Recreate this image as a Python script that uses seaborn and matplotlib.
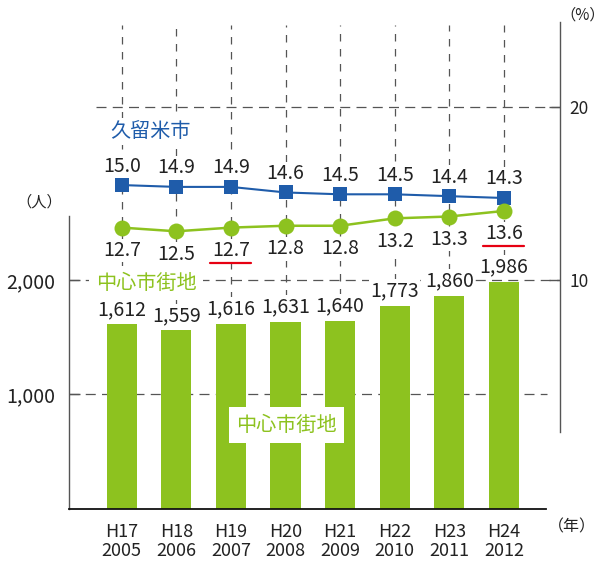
import numpy as np
import matplotlib
matplotlib.use('Agg')
import matplotlib.pyplot as plt
import matplotlib.transforms as mtransforms
from matplotlib import font_manager
import seaborn as sns

# データ
eras = ['H17', 'H18', 'H19', 'H20', 'H21', 'H22', 'H23', 'H24']
years = ['2005', '2006', '2007', '2008', '2009', '2010', '2011', '2012']
center_pop = [1612, 1559, 1616, 1631, 1640, 1773, 1860, 1986]
kurume_rate = [15.0, 14.9, 14.9, 14.6, 14.5, 14.5, 14.4, 14.3]
center_rate = [12.7, 12.5, 12.7, 12.8, 12.8, 13.2, 13.3, 13.6]
underlined = [2, 7]  # 赤い下線つきの値

GREEN = '#8DC21F'
BLUE = '#1F5CAA'
RED = '#E60012'
GRID = '#555555'
INK = '#222222'

sns.set_style('white')
plt.rcParams['font.family'] = ['Noto Sans CJK JP', 'DejaVu Sans']
names = {f.name for f in font_manager.fontManager.ttflist}
if 'Liberation Sans Narrow' in names:
    NUM = ['Liberation Sans Narrow', 'Noto Sans CJK JP']
else:
    NUM = ['Noto Sans CJK JP', 'DejaVu Sans']

fig = plt.figure(figsize=(6.04, 5.65), dpi=100)
rect = [69 / 604, 56 / 565, 491 / 604, 487 / 565]
ax = fig.add_axes(rect)
axp = ax.twinx()
axl = fig.add_axes(rect, facecolor='none')
axl.axis('off')

x = np.arange(len(eras))
xlim = (-0.965, 8.027)
dash = (0, (8, 5))

# 棒グラフ（人）
sns.barplot(x=eras, y=center_pop, ax=ax, color=GREEN, width=0.55,
            saturation=1, linewidth=0, zorder=2)
ax.axhline(1000, xmin=0, xmax=0.9735, color=GRID, lw=0.9, ls=dash, zorder=1)
ax.axhline(2000, xmin=0, xmax=1, color=GRID, lw=0.9, ls=dash, zorder=1)
ax.set_xlim(*xlim)
ax.set_ylim(0, 4253)
ax.set_xlabel('')
ax.set_ylabel('')
for s in ['top', 'right']:
    ax.spines[s].set_visible(False)
ax.spines['left'].set_bounds(0, 2560)
ax.spines['left'].set_color(GRID)
ax.spines['left'].set_linewidth(1)
ax.spines['bottom'].set_bounds(xlim[0], 7.771)
ax.spines['bottom'].set_color('#111111')
ax.spines['bottom'].set_linewidth(1.3)
ax.set_yticks([1000, 2000], ['1,000', '2,000'], fontsize=14, family=NUM, color=INK)
ax.tick_params(axis='y', direction='in', length=8, width=1, color=GRID, pad=10)

# 和暦と西暦を2行の目盛ラベルに
xlabels = [f'{e}\n{y}' for e, y in zip(eras, years)]
ax.set_xticks(x, xlabels, fontsize=13, family=NUM, color=INK, linespacing=1.05)
ax.tick_params(axis='x', length=0, pad=10)

# 右軸（%）
axp.set_ylim(-3.237, 24.913)
axp.axhline(20, xmin=0.055, xmax=1, color=GRID, lw=0.9, ls=dash)
for s in ['top', 'left', 'bottom']:
    axp.spines[s].set_visible(False)
axp.spines['right'].set_bounds(1.2, 24.9)
axp.spines['right'].set_color(GRID)
axp.spines['right'].set_linewidth(1)
axp.set_yticks([10, 20], ['10', '20'], fontsize=12.5, family=NUM, color=INK)
axp.tick_params(axis='y', direction='in', length=8, width=1, color=GRID, pad=7)

# 折れ線（割合）
sns.lineplot(x=x, y=kurume_rate, ax=axl, color=BLUE, marker='s', markersize=10.5,
             lw=1.5, markeredgewidth=0, zorder=4)
sns.lineplot(x=x, y=center_rate, ax=axl, color=GREEN, marker='o', markersize=11.5,
             lw=1.8, markeredgewidth=0, zorder=5)

blend = mtransforms.blended_transform_factory(axl.transData, ax.transData)
for i, v in enumerate(center_pop):
    axl.plot([i, i], [v + 218, 4227], transform=blend, color=GRID, lw=0.9,
             ls=(0, (6, 6)), zorder=0)
    axl.annotate(f'{v:,}', xy=(i, v), xycoords=blend, xytext=(0, 10.8),
                 textcoords='offset points', ha='center', va='center',
                 fontsize=14, family=NUM, color=INK,
                 bbox=dict(fc='white', ec='none', pad=1))

for i, r in enumerate(kurume_rate):
    axl.annotate(f'{r:.1f}', xy=(i, r), xytext=(0, 13.7), textcoords='offset points',
                 ha='center', va='center', fontsize=14, family=NUM, color=INK,
                 bbox=dict(fc='white', ec='none', pad=1))
for i, r in enumerate(center_rate):
    axl.annotate(f'{r:.1f}', xy=(i, r), xytext=(0, -16.5), textcoords='offset points',
                 ha='center', va='center', fontsize=14, family=NUM, color=INK,
                 bbox=dict(fc='white', ec='none', pad=1))

shift = axl.transData + mtransforms.ScaledTranslation(0, -0.35, fig.dpi_scale_trans)
for i in underlined:
    axl.plot([i - 0.375, i + 0.375], [center_rate[i]] * 2, transform=shift,
             color=RED, lw=1.6, zorder=6)

axl.set_xlim(*xlim)
axl.set_ylim(-2.511, 23.814)

# 系列名・単位
fig.text(110 / 604, 1 - 131.7 / 565, '久留米市', color=BLUE, fontsize=14.5,
         ha='left', va='center', bbox=dict(fc='white', ec='none', pad=2))
fig.text(146 / 604, 1 - 283 / 565, '中心市街地', color=GREEN, fontsize=14.5,
         ha='center', va='center', bbox=dict(fc='white', ec='none', pad=5))
fig.text(286.5 / 604, 1 - 425 / 565, '中心市街地', color=GREEN, fontsize=14.5,
         ha='center', va='center',
         bbox=dict(fc='white', ec='none', boxstyle='square,pad=0.35'))
fig.text(39 / 604, 1 - 201.7 / 565, '（人）', fontsize=11, color=INK,
         ha='center', va='center')
fig.text(583 / 604, 1 - 15 / 565, '（%）', fontsize=11, color=INK,
         ha='center', va='center')
fig.text(572 / 604, 1 - 526.7 / 565, '（年）', fontsize=11.5, color=INK,
         ha='center', va='center')

fig.savefig('out.png', dpi=100)
